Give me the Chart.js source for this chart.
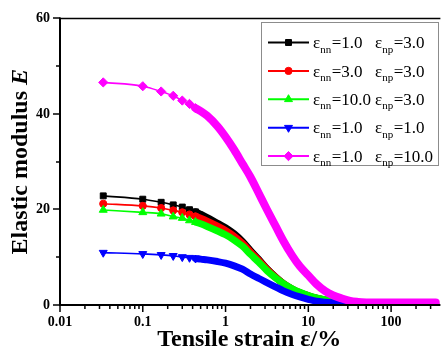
<!DOCTYPE html>
<html><head><meta charset="utf-8">
<script src="https://cdn.jsdelivr.net/npm/chart.js"></script>
<style>html,body{margin:0;padding:0;background:#fff;overflow:hidden}</style>
</head><body>
<canvas id="c" width="444" height="352"></canvas>
<script>
// ---- data ----
const strain = [0.0333, 0.1, 0.1667, 0.2333, 0.3, 0.3667, 0.4333, 0.5, 0.6, 0.8, 1.0, 1.27, 1.6, 2.0, 2.5, 3.16, 4.0, 5.0, 6.3, 7.9, 10, 12.5, 16, 20, 25, 32, 40, 50, 65, 80, 100, 150, 200, 260, 346];
const E_nn1_np3  = [22.85, 22.15, 21.5, 20.96, 20.5, 19.95, 19.5, 19.0, 18.3, 17.1, 16.2, 14.9, 13.3, 11.4, 9.6, 7.6, 5.9, 4.5, 3.4, 2.55, 1.95, 1.45, 1.05, 0.75, 0.5, 0.35, 0.25, 0.2, 0.15, 0.15, 0.15, 0.15, 0.15, 0.15, 0.15];
const E_nn3_np3  = [21.2, 20.75, 20.3, 19.8, 19.4, 18.95, 18.55, 18.15, 17.55, 16.5, 15.6, 14.4, 12.9, 11.1, 9.4, 7.5, 5.85, 4.5, 3.4, 2.55, 1.95, 1.45, 1.05, 0.75, 0.5, 0.35, 0.25, 0.2, 0.15, 0.15, 0.15, 0.15, 0.15, 0.15, 0.15];
const E_nn10_np3 = [19.9, 19.4, 19.1, 18.5, 18.2, 17.7, 17.35, 17.0, 16.45, 15.5, 14.7, 13.6, 12.3, 10.6, 9.0, 7.2, 5.7, 4.45, 3.45, 2.65, 2.0, 1.5, 1.1, 0.8, 0.55, 0.38, 0.28, 0.22, 0.17, 0.15, 0.15, 0.15, 0.15, 0.15, 0.15];
const E_nn1_np1  = [10.96, 10.7, 10.5, 10.3, 10.05, 9.9, 9.75, 9.6, 9.45, 9.1, 8.75, 8.2, 7.5, 6.5, 5.6, 4.7, 3.8, 2.95, 2.25, 1.7, 1.2, 0.8, 0.6, 0.45, 0.32, 0.22, 0.17, 0.13, 0.1, 0.1, 0.1, 0.1, 0.1, 0.1, 0.1];
const E_nn1_np10 = [46.6, 45.8, 44.7, 43.8, 42.8, 42.1, 41.2, 40.6, 39.6, 37.4, 35.2, 32.5, 29.6, 26.8, 23.5, 20.0, 16.6, 13.4, 10.5, 8.1, 6.2, 4.4, 2.9, 2.0, 1.4, 0.85, 0.65, 0.55, 0.5, 0.5, 0.5, 0.5, 0.5, 0.5, 0.5];
const legendNN = ['1.0', '3.0', '10.0', '1.0', '1.0'];
const legendNP = ['3.0', '3.0', '3.0', '1.0', '10.0'];
const xTickValues = [0.01, 0.1, 1, 10, 100];
const xTickLabels = ['0.01', '0.1', '1', '10', '100'];
const yTickValues = [0, 20, 40, 60];
const xTitle = 'Tensile strain ε/%';
const yTitle = 'Elastic modulus ';
const yTitleItalic = 'E';

// ---- styles ----
const series = [
  {vals: E_nn1_np3,  color: '#000000', style: 'rect',     rot: 0,   r: 4.2, band: 7},
  {vals: E_nn3_np3,  color: '#ff0000', style: 'circle',   rot: 0,   r: 3.6, band: 7},
  {vals: E_nn10_np3, color: '#00ff00', style: 'triangle', rot: 0,   r: 4.6, band: 7},
  {vals: E_nn1_np1,  color: '#0000ff', style: 'triangle', rot: 180, r: 4.6, band: 7},
  {vals: E_nn1_np10, color: '#ff00ff', style: 'rectRot',  rot: 0,   r: 4.6, band: 8}
];
const SERIF = '"Liberation Serif", "Times New Roman", serif';
const DENSE = 0.43;

const datasets = series.map((s, k) => ({
  data: strain.map((x, i) => ({x: x, y: s.vals[i]})),
  borderColor: s.color,
  backgroundColor: s.color,
  borderWidth: 1.6,
  pointStyle: s.style,
  pointRotation: s.rot,
  pointRadius: c => strain[c.dataIndex] <= 0.44 ? s.r : 0,
  pointBorderWidth: 1,
  pointBorderColor: s.color,
  pointBackgroundColor: s.color,
  borderJoinStyle: 'round',
  borderCapStyle: 'round',
  cubicInterpolationMode: 'monotone',
  order: 5 - k,
  clip: {left: 6, top: 6, right: 6, bottom: 0},
  segment: {
    borderWidth: c => strain[c.p0DataIndex] >= DENSE ? s.band : 1.6
  }
}));

function line(ctx, x1, y1, x2, y2) { ctx.beginPath(); ctx.moveTo(x1, y1); ctx.lineTo(x2, y2); ctx.stroke(); }

function marker(ctx, style, rot, x, y, r, color) {
  ctx.save();
  ctx.fillStyle = color; ctx.strokeStyle = color; ctx.lineWidth = 1;
  ctx.beginPath();
  if (style === 'rect') {
    const h = r * Math.SQRT1_2; ctx.rect(x - h, y - h, 2 * h, 2 * h);
  } else if (style === 'circle') {
    ctx.arc(x, y, r, 0, Math.PI * 2);
  } else if (style === 'triangle') {
    const d = rot ? -1 : 1;
    ctx.moveTo(x, y - d * r);
    ctx.lineTo(x + r * 0.866, y + d * r * 0.5);
    ctx.lineTo(x - r * 0.866, y + d * r * 0.5);
    ctx.closePath();
  } else if (style === 'rectRot') {
    ctx.moveTo(x, y - r); ctx.lineTo(x + r, y); ctx.lineTo(x, y + r); ctx.lineTo(x - r, y); ctx.closePath();
  }
  ctx.fill(); ctx.stroke();
  ctx.restore();
}

const framePlugin = {
  id: 'frame',
  afterDatasetsDraw(chart) {
    const {ctx, chartArea: a, scales: {x, y}} = chart;
    ctx.save();
    ctx.strokeStyle = '#000';
    ctx.lineWidth = 1.5;
    line(ctx, a.left, a.top, a.right + 2, a.top);
    ctx.lineWidth = 2;
    line(ctx, a.left, a.top - 1, a.left, a.bottom + 1);
    line(ctx, a.left - 1, a.bottom, a.right + 2, a.bottom);
    ctx.lineWidth = 1.5;
    for (let v = 0; v <= 60; v += 10) {
      const py = Math.round(y.getPixelForValue(v)) ;
      const len = (v % 20 === 0) ? 7 : 4;
      line(ctx, a.left - len, py, a.left, py);
    }
    for (let d = -2; d <= 2; d++) {
      for (let m = 1; m <= 9; m++) {
        const v = m * Math.pow(10, d);
        if (v > x.max) continue;
        const px = x.getPixelForValue(v);
        const len = m === 1 ? 7 : 4;
        line(ctx, px, a.bottom, px, a.bottom + len);
      }
    }
    // y title with italic E
    ctx.fillStyle = '#000';
    ctx.translate(21, (a.top + a.bottom) / 2);
    ctx.rotate(-Math.PI / 2);
    ctx.textBaseline = 'middle';
    const f1 = 'bold 24px ' + SERIF, f2 = 'italic bold 24px ' + SERIF;
    ctx.font = f1; const w1 = ctx.measureText(yTitle).width;
    ctx.font = f2; const w2 = ctx.measureText(yTitleItalic).width;
    let sx = -(w1 + w2) / 2;
    ctx.font = f1; ctx.fillText(yTitle, sx, 0);
    ctx.font = f2; ctx.fillText(yTitleItalic, sx + w1, 0);
    ctx.restore();
  },
  afterDraw(chart) {
    const ctx = chart.ctx;
    ctx.save();
    ctx.strokeStyle = '#8c8c8c'; ctx.lineWidth = 1;
    ctx.strokeRect(261.5, 22.5, 177, 143);
    series.forEach((s, i) => {
      const yc = 42.5 + i * 28.4;
      ctx.strokeStyle = s.color; ctx.lineWidth = 2;
      line(ctx, 268, yc, 309, yc);
      marker(ctx, s.style, s.rot, 288.5, yc, s.r, s.color);
      const by = yc + 5.6;
      ctx.fillStyle = '#000'; ctx.textBaseline = 'alphabetic'; ctx.textAlign = 'left';
      const main = '17px ' + SERIF, sub = '11px ' + SERIF;
      let x = 313;
      ctx.font = main; ctx.fillText('ε', x, by); x += ctx.measureText('ε').width;
      ctx.font = sub; ctx.fillText('nn', x, by + 4.5); x += ctx.measureText('nn').width + 0.5;
      ctx.font = main; ctx.fillText('=' + legendNN[i], x, by); x += ctx.measureText('=' + legendNN[i]).width;
      x = Math.max(x + 2, 375);
      ctx.fillText('ε', x, by); x += ctx.measureText('ε').width;
      ctx.font = sub; ctx.fillText('np', x, by + 4.5); x += ctx.measureText('np').width + 0.5;
      ctx.font = main; ctx.fillText('=' + legendNP[i], x, by);
    });
    ctx.restore();
  }
};

new Chart(document.getElementById('c'), {
  type: 'line',
  data: {datasets: datasets},
  plugins: [framePlugin],
  options: {
    responsive: false,
    animation: false,
    devicePixelRatio: 1,
    layout: {padding: {top: 18, right: 0, left: 0, bottom: 0}},
    plugins: {legend: {display: false}, tooltip: {enabled: false}},
    scales: {
      x: {
        type: 'logarithmic',
        min: 0.01,
        max: Math.pow(10, 2.5714),
        grid: {display: false, drawTicks: false},
        border: {display: false},
        afterBuildTicks: s => { s.ticks = xTickValues.map(v => ({value: v})); },
        afterFit: s => { s.height = 47; },
        ticks: {
          autoSkip: false, maxRotation: 0, padding: 9, color: '#000',
          font: {family: SERIF, size: 14, weight: 'bold'},
          callback: (v, i) => xTickLabels[i]
        },
        title: {
          display: true, text: xTitle, color: '#000',
          font: {family: SERIF, size: 24, weight: 'bold', lineHeight: 1.0},
          padding: {top: 0, bottom: 0}
        }
      },
      y: {
        type: 'linear',
        min: 0, max: 60,
        grid: {display: false, drawTicks: false},
        border: {display: false},
        afterBuildTicks: s => { s.ticks = yTickValues.map(v => ({value: v})); },
        afterFit: s => { s.width = 60; },
        ticks: {
          padding: 10, color: '#000',
          font: {family: SERIF, size: 14, weight: 'bold'}
        }
      }
    }
  }
});
</script>
</body></html>
